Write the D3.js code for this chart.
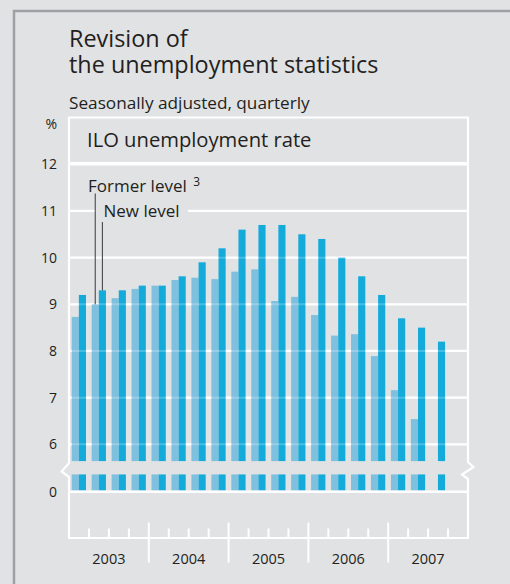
<!DOCTYPE html>
<html>
<head>
<meta charset="utf-8">
<script src="https://cdn.jsdelivr.net/npm/d3@7"></script>
<style>
  body { margin: 0; background: #e1e2e4; }
  svg { display: block; font-family: "Open Sans", "Noto Sans", sans-serif; }
</style>
</head>
<body>
<div id="chart"></div>
<script>
// quarterly ILO unemployment rate, %
const years = ['2003', '2004', '2005', '2006', '2007'];
const quarters = years.flatMap(y => ['Q1', 'Q2', 'Q3', 'Q4'].map(q => `${y} ${q}`));
const formerLevel = [8.73, 9.0, 9.13, 9.33, 9.4, 9.52, 9.57, 9.54, 9.7, 9.75, 9.07, 9.16,
                     8.77, 8.33, 8.36, 7.89, 7.16, 6.54, null, null];
const newLevel = [9.2, 9.3, 9.3, 9.4, 9.4, 9.6, 9.9, 10.2, 10.6, 10.7, 10.7, 10.5,
                  10.4, 10.0, 9.6, 9.2, 8.7, 8.5, 8.2, null];
const yTicks = [6, 7, 8, 9, 10, 11, 12];
const series = ['former', 'new'];

const W = 510, H = 584;
const COLORS = {
  bg: '#e1e2e4',
  border: '#9fa0a2',
  former: '#7fc0df',
  new: '#14abdb',
  text: '#231f20',
  leader: '#3a3a3a'
};

const left = 69, right = 468;
const breakValue = 5.64;   // where the upper part of the bars is cut
const stubValue = 0.37;    // height of the stub drawn above zero

const svg = d3.select('#chart').append('svg')
  .attr('width', W)
  .attr('height', H);

svg.append('rect').attr('width', W).attr('height', H).attr('fill', COLORS.bg);

// outer box border (top + left)
svg.append('path')
  .attr('d', `M14,${H} L14,11 L${W},11`)
  .attr('fill', 'none')
  .attr('stroke', COLORS.border)
  .attr('stroke-width', 2.5);

// titles, two lines set tight like the print original
svg.append('text')
  .attr('x', left)
  .attr('y', 47)
  .attr('fill', COLORS.text)
  .attr('font-size', '23.4px')
  .text('Revision of');
svg.append('text')
  .attr('x', left)
  .attr('y', 73)
  .attr('fill', COLORS.text)
  .attr('font-size', '23.4px')
  .text('the unemployment statistics');

svg.append('text')
  .attr('x', left)
  .attr('y', 108.5)
  .attr('fill', COLORS.text)
  .attr('font-size', '17.2px')
  .text('Seasonally adjusted, quarterly');

// scales
const xScale = d3.scaleBand().domain(quarters).range([left, right]).padding(0);
const xInner = d3.scaleBand().domain(series).range([2.7, 17]).padding(0);
const yScale = d3.scaleLinear().domain([6, 12]).range([444.3, 164.3]);
const yLow = d3.scaleLinear().domain([0, 1]).range([491.7, 491.7 - 46.67]);

// header box
svg.append('rect')
  .attr('x', left)
  .attr('y', 117.5)
  .attr('width', right - left)
  .attr('height', 45.5)
  .attr('fill', 'none')
  .attr('stroke', '#fff')
  .attr('stroke-width', 2);

svg.append('text')
  .attr('x', 87)
  .attr('y', 147)
  .attr('fill', COLORS.text)
  .attr('font-size', '20.2px')
  .text('ILO unemployment rate');

// gridlines
const grid = svg.append('g');
grid.selectAll('line')
  .data(yTicks)
  .join('line')
  .attr('x1', left)
  .attr('x2', right)
  .attr('y1', d => yScale(d))
  .attr('y2', d => yScale(d))
  .attr('stroke', '#fff')
  .attr('stroke-width', 2.2);

// bars
const barData = quarters.flatMap((q, i) => [
  { q, key: 'former', value: formerLevel[i] },
  { q, key: 'new', value: newLevel[i] }
]).filter(d => d.value != null);

const bars = svg.append('g');
bars.selectAll('.bar')
  .data(barData)
  .join('rect')
  .attr('class', 'bar')
  .attr('x', d => xScale(d.q) + xInner(d.key))
  .attr('y', d => yScale(d.value))
  .attr('width', xInner.bandwidth())
  .attr('height', d => yScale(breakValue) - yScale(d.value))
  .attr('fill', d => COLORS[d.key]);

bars.selectAll('.stub')
  .data(barData)
  .join('rect')
  .attr('class', 'stub')
  .attr('x', d => xScale(d.q) + xInner(d.key))
  .attr('y', yLow(stubValue))
  .attr('width', xInner.bandwidth())
  .attr('height', yLow(0) - yLow(stubValue) - 1.2)
  .attr('fill', d => COLORS[d.key]);

// faint gridlines showing through the bars
svg.append('g').selectAll('line')
  .data(yTicks.slice(0, -1))
  .join('line')
  .attr('x1', left)
  .attr('x2', right)
  .attr('y1', d => yScale(d))
  .attr('y2', d => yScale(d))
  .attr('stroke', '#fff')
  .attr('stroke-opacity', 0.22)
  .attr('stroke-width', 2);

// zero line
svg.append('line')
  .attr('x1', left).attr('x2', right)
  .attr('y1', yLow(0)).attr('y2', yLow(0))
  .attr('stroke', '#fff')
  .attr('stroke-width', 2.4);

// frame sides with break marks
const axisY = 538;
svg.append('path')
  .attr('d', `M${left},117 V463 L61.7,471.5 L${left},477 V${axisY}`)
  .attr('fill', 'none')
  .attr('stroke', '#fff')
  .attr('stroke-width', 2.2);
svg.append('path')
  .attr('d', `M${right},117 V462 L473.5,467 L462,474.5 L${right},479 V${axisY}`)
  .attr('fill', 'none')
  .attr('stroke', '#fff')
  .attr('stroke-width', 2.2);

// bottom time axis
svg.append('line')
  .attr('x1', left - 1).attr('x2', right + 1)
  .attr('y1', axisY).attr('y2', axisY)
  .attr('stroke', '#fff')
  .attr('stroke-width', 2.2);

const bounds = quarters.slice(1);
svg.append('g').selectAll('line')
  .data(bounds)
  .join('line')
  .attr('x1', d => xScale(d))
  .attr('x2', d => xScale(d))
  .attr('y1', d => d.endsWith('Q1') ? 522.5 : 528.5)
  .attr('y2', d => d.endsWith('Q1') ? 562.5 : axisY)
  .attr('stroke', '#fff')
  .attr('stroke-width', 2);

svg.append('g').selectAll('text')
  .data(years)
  .join('text')
  .attr('x', d => xScale(`${d} Q1`) + xScale.bandwidth() * 2)
  .attr('y', 564)
  .attr('text-anchor', 'middle')
  .attr('fill', COLORS.text)
  .attr('font-size', '14.5px')
  .text(d => d);

// y labels
const yAxisGroup = svg.append('g')
  .attr('transform', 'translate(57,0)')
  .call(d3.axisLeft(yScale).tickValues(yTicks).tickFormat(d3.format('d')).tickSize(0).tickPadding(0));
const zeroAxisGroup = svg.append('g')
  .attr('transform', 'translate(57,0)')
  .call(d3.axisLeft(yLow).tickValues([0]).tickFormat(d3.format('d')).tickSize(0).tickPadding(0));
[yAxisGroup, zeroAxisGroup].forEach(g => {
  g.select('.domain').remove();
  g.selectAll('text')
    .attr('fill', COLORS.text)
    .attr('font-size', '14px')
    .attr('font-family', '"Open Sans", "Noto Sans", sans-serif');
});

svg.append('text')
  .attr('x', 57)
  .attr('y', 129)
  .attr('text-anchor', 'end')
  .attr('fill', COLORS.text)
  .attr('font-size', '14px')
  .text('%');

// legend labels with leader lines
const legendQ = quarters[1];
const formerX = xScale(legendQ) + xInner('former') + xInner.bandwidth() / 2;
const newX = xScale(legendQ) + xInner('new') + xInner.bandwidth() / 2;

svg.append('line')
  .attr('x1', formerX).attr('x2', formerX)
  .attr('y1', 193.5).attr('y2', yScale(formerLevel[1]))
  .attr('stroke', COLORS.leader)
  .attr('stroke-width', 1);

svg.append('rect')
  .attr('x', formerX + 1)
  .attr('y', 203)
  .attr('width', 188 - formerX - 1)
  .attr('height', 16)
  .attr('fill', COLORS.bg);

svg.append('line')
  .attr('x1', newX).attr('x2', newX)
  .attr('y1', 222).attr('y2', yScale(newLevel[1]))
  .attr('stroke', COLORS.leader)
  .attr('stroke-width', 1);

const formerLabel = svg.append('text')
  .attr('x', 88)
  .attr('y', 191.5)
  .attr('fill', COLORS.text)
  .attr('font-size', '17px')
  .text('Former level ');
formerLabel.append('tspan')
  .attr('font-size', '12px')
  .attr('dx', 2)
  .attr('dy', -6)
  .text('3');

svg.append('text')
  .attr('x', 103.5)
  .attr('y', 216.5)
  .attr('fill', COLORS.text)
  .attr('font-size', '17px')
  .text('New level');
</script>
</body>
</html>
